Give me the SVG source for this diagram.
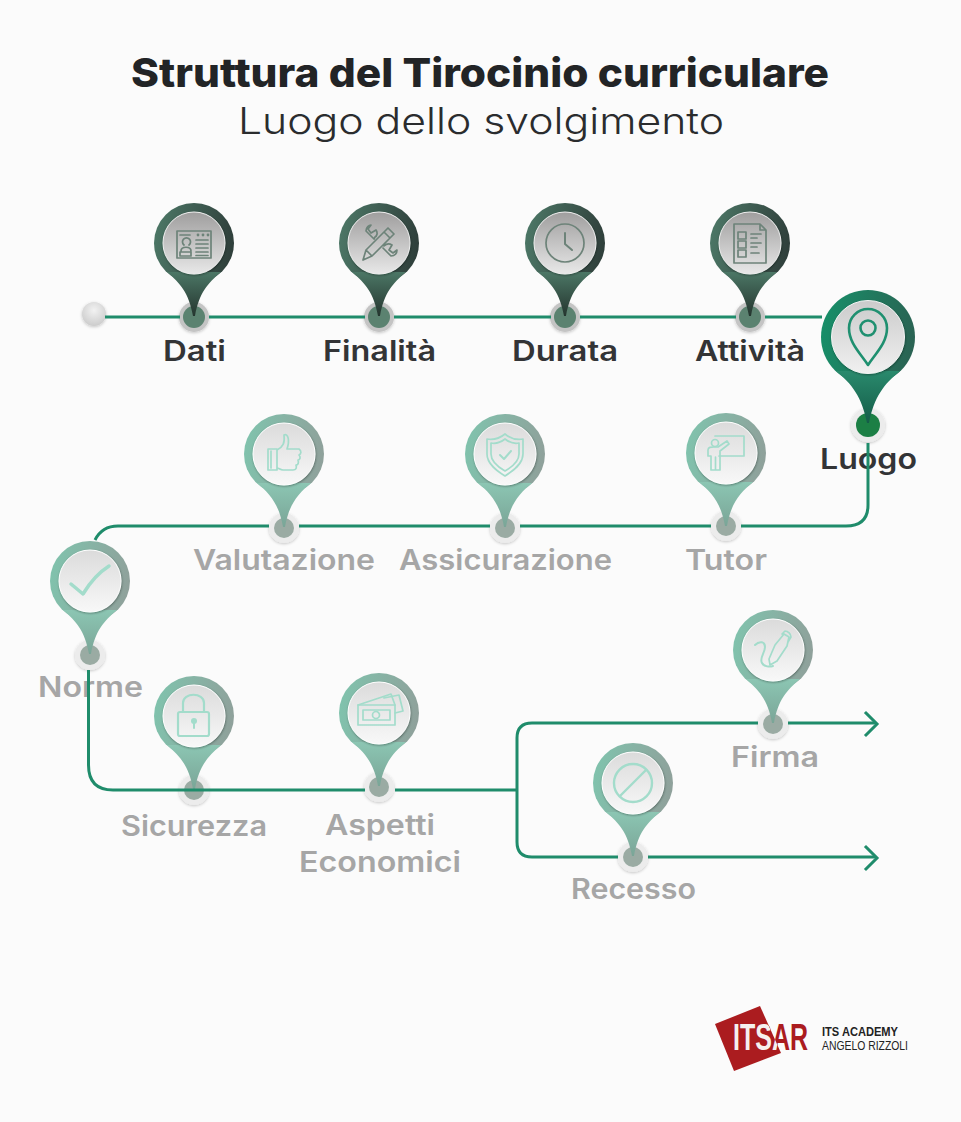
<svg xmlns="http://www.w3.org/2000/svg" width="961" height="1122" viewBox="0 0 961 1122">
<style>
text{font-family:Inter,"Open Sans","Liberation Sans",sans-serif}
.title{font-size:40px;font-weight:800;fill:#222426}
.sub{font-size:37px;font-weight:300;fill:#2a2c2e}
.on{font-size:28px;font-weight:600;fill:#333436}
.off{font-size:28px;font-weight:600;fill:#a6a6a6}
.line{fill:none;stroke:#1f8c6b;stroke-width:3}
.i{fill:none;stroke:currentColor;stroke-width:1.7;stroke-linecap:round;stroke-linejoin:round}
.f{fill:currentColor;stroke:none}
.dk{color:#6d8379}
.lt{color:#a3dccb}
.ac{color:#1f9070}
</style>
<defs>
<linearGradient id="ringD" x1="0" y1="0.3" x2="1" y2="0.45"><stop offset="0" stop-color="#4c7766"/><stop offset="1" stop-color="#2f3f3b"/></linearGradient>
<linearGradient id="ringL" x1="0" y1="0.3" x2="1" y2="0.45"><stop offset="0" stop-color="#80c3ad"/><stop offset="1" stop-color="#8fa19b"/></linearGradient>
<linearGradient id="ringA" x1="0" y1="0.3" x2="1" y2="0.45"><stop offset="0" stop-color="#178f69"/><stop offset="1" stop-color="#2a6353"/></linearGradient>
<linearGradient id="tailD" x1="0" y1="0" x2="0" y2="1"><stop offset="0" stop-color="#4c7766"/><stop offset="1" stop-color="#25352f"/></linearGradient>
<linearGradient id="tailL" x1="0" y1="0" x2="0" y2="1"><stop offset="0" stop-color="#8cc6b3"/><stop offset="1" stop-color="#7aa597"/></linearGradient>
<linearGradient id="tailA" x1="0" y1="0" x2="0" y2="1"><stop offset="0" stop-color="#2a8a6d"/><stop offset="1" stop-color="#145c48"/></linearGradient>
<linearGradient id="discD" x1="0" y1="0" x2="0" y2="1"><stop offset="0" stop-color="#9f9e9e"/><stop offset="1" stop-color="#e8e8e8"/></linearGradient>
<linearGradient id="discL" x1="0" y1="0" x2="0" y2="1"><stop offset="0" stop-color="#dbdbdb"/><stop offset="1" stop-color="#f8f8f8"/></linearGradient>
<linearGradient id="discA" x1="0" y1="0" x2="0" y2="1"><stop offset="0" stop-color="#cbcbcb"/><stop offset="1" stop-color="#f0f0f0"/></linearGradient>
<radialGradient id="ball" cx="0.5" cy="0.35" r="0.7"><stop offset="0" stop-color="#f2f2f2"/><stop offset="1" stop-color="#c9c9c9"/></radialGradient>
<filter id="sh" x="-30%" y="-30%" width="160%" height="160%"><feDropShadow dx="0.5" dy="1" stdDeviation="1.2" flood-color="#000" flood-opacity=".35"/></filter>
<filter id="sh2" x="-40%" y="-40%" width="180%" height="180%"><feDropShadow dx="0" dy="1" stdDeviation="1.5" flood-color="#000" flood-opacity=".22"/></filter>
<clipPath id="logoClip"><polygon points="715,1024 760,1006 781,1053 734,1071"/></clipPath>
<g id="pinD"><circle r="40" fill="url(#ringD)"/><path d="M-27 29C-14 40-5 50-1 73H1C5 50 14 40 27 29Z" fill="url(#tailD)"/><circle r="31" fill="url(#discD)" stroke="#eee" stroke-width="1" filter="url(#sh)"/></g>
<g id="pinL"><circle r="40" fill="url(#ringL)"/><path d="M-27 29C-14 40-5 50-1 73H1C5 50 14 40 27 29Z" fill="url(#tailL)"/><circle r="31" fill="url(#discL)" stroke="#fff" stroke-width="1" filter="url(#sh)"/></g>
<g id="pinA"><circle r="47" fill="url(#ringA)"/><path d="M-32 34C-16 47-6 60-1 86H1C6 60 16 47 32 34Z" fill="url(#tailA)"/><circle r="36.5" fill="url(#discA)" stroke="#f4f4f4" stroke-width="1" filter="url(#sh)"/></g>
<circle id="dotD" r="15" fill="#c4c4c4" filter="url(#sh2)"/>
<circle id="dotL" r="15" fill="#ececec" filter="url(#sh2)"/>
</defs>
<rect width="961" height="1122" fill="#fbfbfb"/>
<text class="title" x="131" y="87" textLength="698" lengthAdjust="spacingAndGlyphs">Struttura del Tirocinio curriculare</text>
<text class="sub" x="238" y="134" textLength="486" lengthAdjust="spacingAndGlyphs">Luogo dello svolgimento</text>

<g id="start"><circle cx="94" cy="314" r="12" fill="url(#ball)" filter="url(#sh2)"/></g>

<g id="node-dati">
<use href="#dotD" x="194" y="317"/><circle cx="194" cy="317" r="11" fill="#5b8270"/><use href="#pinD" x="194" y="243"/>
<g class="dk" transform="translate(194 243)"><rect class="i" x="-17" y="-12" width="34" height="27"/><path class="i" d="M-14-8H-4M-5 2a4 4 0 1 0-5 0M-13 8C-13 3-3 3-3 8M-14 9H-3V13H-14ZM2-3H14M2 1H14M2 5H14M2 9H14M2 12.500H14"/><circle class="f" cx="4" cy="-8" r="1.400"/><circle class="f" cx="9" cy="-8" r="1.400"/><circle class="f" cx="14" cy="-8" r="1.400"/></g>
<text class="on" x="163" y="361" textLength="63" lengthAdjust="spacingAndGlyphs">Dati</text></g>

<g id="node-finalita">
<use href="#dotD" x="379" y="317"/><circle cx="379" cy="317" r="11" fill="#5b8270"/><use href="#pinD" x="379" y="243"/>
<g class="dk" transform="translate(379 243)"><path class="i" d="M-16 17L-13 7 9-15 15-9-7 13ZM-13 7L-7 13M5-11L11-5M-5-4L-13-12C-13-16-10-18-8-18L-11-14-8-10-3-13C-1-10-2-7-4-6ZM4 5L12 13C16 13 18 10 18 7L14 10 10 7 13 2C10 0 7 1 5 3"/></g>
<text class="on" x="323" y="361" textLength="113" lengthAdjust="spacingAndGlyphs">Finalità</text></g>

<g id="node-durata">
<use href="#dotD" x="565" y="317"/><circle cx="565" cy="317" r="11" fill="#5b8270"/><use href="#pinD" x="565" y="243"/>
<g class="dk" transform="translate(565 243)"><circle class="i" r="19"/><path class="i" style="stroke-width:2" d="M0-10V1L7 7"/></g>
<text class="on" x="512" y="361" textLength="106" lengthAdjust="spacingAndGlyphs">Durata</text></g>

<g id="node-attivita">
<use href="#dotD" x="750" y="317"/><circle cx="750" cy="317" r="11" fill="#5b8270"/><use href="#pinD" x="750" y="243"/>
<g class="dk" transform="translate(750 243)"><path class="i" d="M-16-19H10L16-13V20H-16ZM10-19V-13H16"/><path class="i" d="M-12-11H-4V-4H-12ZM-12-2H-4V5H-12ZM-12 7H-4V14H-12ZM1-9H11M1-5H7M1 0H11M1 4H7M1 10H9"/></g>
<text class="on" x="695" y="361" textLength="110" lengthAdjust="spacingAndGlyphs">Attività</text></g>

<g id="node-luogo">
<circle cx="868" cy="425" r="17" fill="#ececec" filter="url(#sh2)"/><circle cx="868" cy="425" r="12" fill="#1c7f45"/><use href="#pinA" x="868" y="337"/>
<g class="ac" transform="translate(868 337)"><path class="i" style="stroke-width:2.600" d="M0 28C-8 16-19 6-19-9A19 19 0 0 1 19-9C19 6 8 16 0 28Z"/><circle class="i" style="stroke-width:2.600" cy="-9" r="7.500"/></g>
<text class="on" x="820" y="469" textLength="97" lengthAdjust="spacingAndGlyphs">Luogo</text></g>

<g id="node-valutazione">
<use href="#dotL" x="284" y="528"/><circle cx="284" cy="528" r="10" fill="#9aaba3"/><use href="#pinL" x="284" y="454"/>
<g class="lt" transform="translate(284 454)"><path class="i" d="M-16-5H-7V16H-16ZM-7-4C-1-7 1-11 0-19 4-21 6-14 3-5H15C18-3 17 0 15 1 17 3 16 6 14 6 15 9 14 11 12 11 13 14 12 16 9 16H-1C-4 16-5 14-7 14"/><path class="i" d="M-13-3V14"/></g>
<text class="off" x="193" y="570" textLength="182" lengthAdjust="spacingAndGlyphs">Valutazione</text></g>

<g id="node-assicurazione">
<use href="#dotL" x="505" y="528"/><circle cx="505" cy="528" r="10" fill="#9aaba3"/><use href="#pinL" x="505" y="454"/>
<g class="lt" transform="translate(505 454)"><path class="i" d="M0-20C6-15 12-14 18-15V0C18 10 8 17 0 22-8 17-18 10-18 0V-15C-12-14-6-15 0-20Z"/><path class="i" d="M0-15C5-11 9-10 14-11V0C14 7 7 13 0 17-7 13-14 7-14 0V-11C-9-10-5-11 0-15Z"/><path class="i" style="stroke-width:2" d="M-5 1L-1 5 6-3"/></g>
<text class="off" x="399" y="570" textLength="213" lengthAdjust="spacingAndGlyphs">Assicurazione</text></g>

<g id="node-tutor">
<use href="#dotL" x="726" y="526"/><circle cx="726" cy="526" r="10" fill="#9aaba3"/><use href="#pinL" x="726" y="453"/>
<g class="lt" transform="translate(726 453)"><path class="i" d="M-11-17H18V3H-7"/><circle class="i" cx="-11" cy="-10" r="3.500"/><path class="i" d="M-18-3C-18-6-15-6-12-6H-8L1-12 3-9-6-2V17H-15V3H-18ZM-10.500 4V17"/></g>
<text class="off" x="685" y="570" textLength="82" lengthAdjust="spacingAndGlyphs">Tutor</text></g>

<g id="node-norme">
<use href="#dotL" x="90" y="655"/><circle cx="90" cy="655" r="10" fill="#9aaba3"/><use href="#pinL" x="90" y="581"/>
<g class="lt" transform="translate(90 581)"><path class="i" style="stroke-width:3.500" d="M-19 3L-7 13C-1 3 8-8 19-15"/></g>
<text class="off" x="38" y="697" textLength="105" lengthAdjust="spacingAndGlyphs">Norme</text></g>

<g id="node-sicurezza">
<use href="#dotL" x="194" y="790"/><circle cx="194" cy="790" r="10" fill="#9aaba3"/><use href="#pinL" x="194" y="716"/>
<g class="lt" transform="translate(194 716)"><rect class="i" style="stroke-width:2.200" x="-16" y="-4" width="31" height="24" rx="2"/><path class="i" style="stroke-width:2.200" d="M-11-4V-13C-11-24 10-24 10-13V-4"/><circle class="f" cx="0" cy="5" r="3"/><path class="i" style="stroke-width:2" d="M0 6V12"/></g>
<text class="off" x="121" y="836" textLength="146" lengthAdjust="spacingAndGlyphs">Sicurezza</text></g>

<g id="node-aspetti">
<use href="#dotL" x="379" y="787"/><circle cx="379" cy="787" r="10" fill="#9aaba3"/><use href="#pinL" x="379" y="713"/>
<g class="lt" transform="translate(379 713)"><rect class="i" x="-21" y="-8" width="37" height="20"/><path class="i" d="M-21-8L12-19 16-8M5-15L20-18 24-2 16 0M-16-3H11V7H-16Z"/><circle class="i" cx="-3" cy="2" r="3.500"/></g>
<text class="off" x="325" y="835" textLength="110" lengthAdjust="spacingAndGlyphs">Aspetti</text>
<text class="off" x="299" y="872" textLength="162" lengthAdjust="spacingAndGlyphs">Economici</text></g>

<g id="node-firma">
<use href="#dotL" x="773" y="724"/><circle cx="773" cy="724" r="10" fill="#9aaba3"/><use href="#pinL" x="773" y="650"/>
<g class="lt" transform="translate(773 650)"><path class="i" d="M-4 9L2-5 11-16 16-13 14-4 4 11 -3 15ZM9-16L12-19C15-19 18-16 18-13L15-8"/><path class="i" style="stroke-width:2" d="M-18-5C-14-9-8-9-8-3-8 3-14 8-11 13-9 17-3 17 0 16"/></g>
<text class="off" x="731" y="767" textLength="88" lengthAdjust="spacingAndGlyphs">Firma</text></g>

<g id="node-recesso">
<use href="#dotL" x="633" y="857"/><circle cx="633" cy="857" r="10" fill="#9aaba3"/><use href="#pinL" x="633" y="783"/>
<g class="lt" transform="translate(633 783)"><circle class="i" style="stroke-width:2.400" r="19"/><path class="i" style="stroke-width:2.400" d="M-13 13L13-13"/></g>
<text class="off" x="571" y="899" textLength="125" lengthAdjust="spacingAndGlyphs">Recesso</text></g>

<g id="connectors">
<path class="line" d="M105 317H180M209 317H365M394 317H551M580 317H736M765 317H822"/>
<path class="line" d="M868 443V505Q868 526 846 526H741M711 526H520M490 526H299M269 526H118Q102 526 95 540"/>
<path class="line" d="M88.500 670V765Q88.500 790 113 790H365M395 790H517"/>
<path class="line" d="M517 790V738Q517 723 532 723H758M788 723H876M517 790V842Q517 857 532 857H618M648 857H876"/>
<path class="line" stroke-linecap="square" d="M866 713L877 724 866 735M866 847L877 858 866 869" style="stroke-width:3"/>
</g>

<g id="logo">
<polygon points="715,1024 760,1006 781,1053 734,1071" fill="#ab1c1f"/>
<text x="733" y="1050" textLength="75" lengthAdjust="spacingAndGlyphs" style="font-family:'Liberation Sans',sans-serif;font-size:37px;font-weight:700;fill:#ab1c1f">ITSAR</text>
<text x="733" y="1050" textLength="75" lengthAdjust="spacingAndGlyphs" clip-path="url(#logoClip)" style="font-family:'Liberation Sans',sans-serif;font-size:37px;font-weight:700;fill:#f6f0ee">ITSAR</text>
<text x="822" y="1036" textLength="76" lengthAdjust="spacingAndGlyphs" style="font-family:'Liberation Sans',sans-serif;font-size:13px;font-weight:700;fill:#222">ITS ACADEMY</text>
<text x="822" y="1050" textLength="86" lengthAdjust="spacingAndGlyphs" style="font-family:'Liberation Sans',sans-serif;font-size:13px;fill:#222">ANGELO RIZZOLI</text>
</g>
</svg>
